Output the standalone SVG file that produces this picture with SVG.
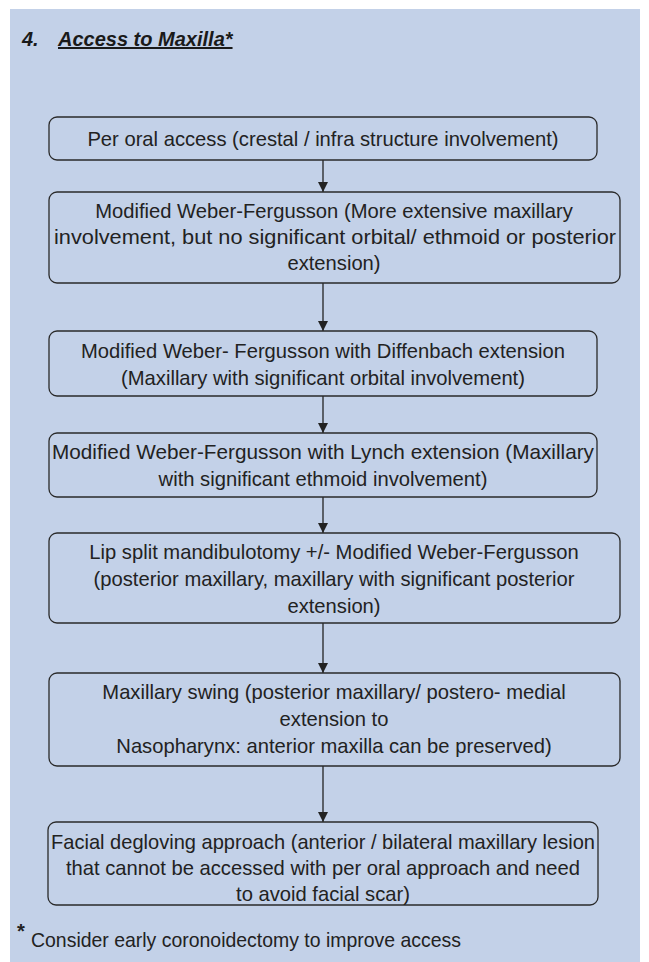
<svg xmlns="http://www.w3.org/2000/svg" width="649" height="962" viewBox="0 0 649 962">
<defs>
<style>
.bg{fill:#c3d1e8}
.box{fill:none;stroke:#2a2a2a;stroke-width:1.3}
.t{font-family:"Liberation Sans",Arial,sans-serif;font-size:20.2px;fill:#222;text-anchor:middle}
.ttl{font-family:"Liberation Sans",Arial,sans-serif;font-size:20px;font-weight:bold;font-style:italic;fill:#1a1a1a}
.fn{font-family:"Liberation Sans",Arial,sans-serif;font-size:20.2px;fill:#222}
.c{stroke:#222;stroke-width:1.3;fill:none}
</style>
<marker id="ah" viewBox="0 0 10 10" refX="10" refY="5" markerWidth="10" markerHeight="10" markerUnits="userSpaceOnUse" orient="auto">
<path d="M0,0 L10,5 L0,10 z" fill="#222"/>
</marker>
</defs>
<rect x="0" y="0" width="649" height="962" fill="#ffffff"/>
<rect class="bg" x="10" y="9" width="630" height="953"/>
<g id="title">
<text class="ttl" x="22" y="46">4.</text>
<text class="ttl" x="58" y="46" text-decoration="underline">Access to Maxilla*</text>
</g>
<g id="connectors">
<line class="c" x1="323" y1="160" x2="323" y2="192" marker-end="url(#ah)"/>
<line class="c" x1="323" y1="283" x2="323" y2="331" marker-end="url(#ah)"/>
<line class="c" x1="323" y1="396" x2="323" y2="433" marker-end="url(#ah)"/>
<line class="c" x1="323" y1="497" x2="323" y2="533" marker-end="url(#ah)"/>
<line class="c" x1="323" y1="623" x2="323" y2="673" marker-end="url(#ah)"/>
<line class="c" x1="323" y1="766" x2="323" y2="822" marker-end="url(#ah)"/>
</g>
<g id="n1">
<rect class="box" x="49" y="117" width="548" height="43" rx="8"/>
<text class="t" x="323" y="146">Per oral access (crestal / infra structure involvement)</text>
</g>
<g id="n2">
<rect class="box" x="49" y="192" width="571" height="91" rx="8"/>
<text class="t" x="334" y="218">Modified Weber-Fergusson (More extensive maxillary</text>
<text class="t" x="335" y="244" textLength="562" lengthAdjust="spacingAndGlyphs">involvement, but no significant orbital/ ethmoid or posterior</text>
<text class="t" x="334" y="270">extension)</text>
</g>
<g id="n3">
<rect class="box" x="49" y="331" width="548" height="65" rx="8"/>
<text class="t" x="323" y="358">Modified Weber- Fergusson with Diffenbach extension</text>
<text class="t" x="323" y="385">(Maxillary with significant orbital involvement)</text>
</g>
<g id="n4">
<rect class="box" x="49" y="433" width="548" height="64" rx="8"/>
<text class="t" x="323" y="459" textLength="542" lengthAdjust="spacingAndGlyphs">Modified Weber-Fergusson with Lynch extension (Maxillary</text>
<text class="t" x="323" y="486">with significant ethmoid involvement)</text>
</g>
<g id="n5">
<rect class="box" x="49" y="533" width="571" height="90" rx="8"/>
<text class="t" x="334" y="559">Lip split mandibulotomy +/- Modified Weber-Fergusson</text>
<text class="t" x="334" y="586">(posterior maxillary, maxillary with significant posterior</text>
<text class="t" x="334" y="613">extension)</text>
</g>
<g id="n6">
<rect class="box" x="49" y="673" width="571" height="93" rx="8"/>
<text class="t" x="334" y="699">Maxillary swing (posterior maxillary/ postero- medial</text>
<text class="t" x="334" y="726">extension to</text>
<text class="t" x="334" y="753">Nasopharynx: anterior maxilla can be preserved)</text>
</g>
<g id="n7">
<rect class="box" x="48" y="822" width="550" height="83" rx="8"/>
<text class="t" x="323" y="849" textLength="544" lengthAdjust="spacingAndGlyphs">Facial degloving approach (anterior / bilateral maxillary lesion</text>
<text class="t" x="323" y="875">that cannot be accessed with per oral approach and need</text>
<text class="t" x="323" y="901">to avoid facial scar)</text>
</g>
<g id="footnote">
<text class="fn" x="17" y="938" font-size="34" font-weight="bold">*</text>
<text class="fn" x="31" y="947" textLength="430" lengthAdjust="spacingAndGlyphs">Consider early coronoidectomy to improve access</text>
</g>
</svg>
